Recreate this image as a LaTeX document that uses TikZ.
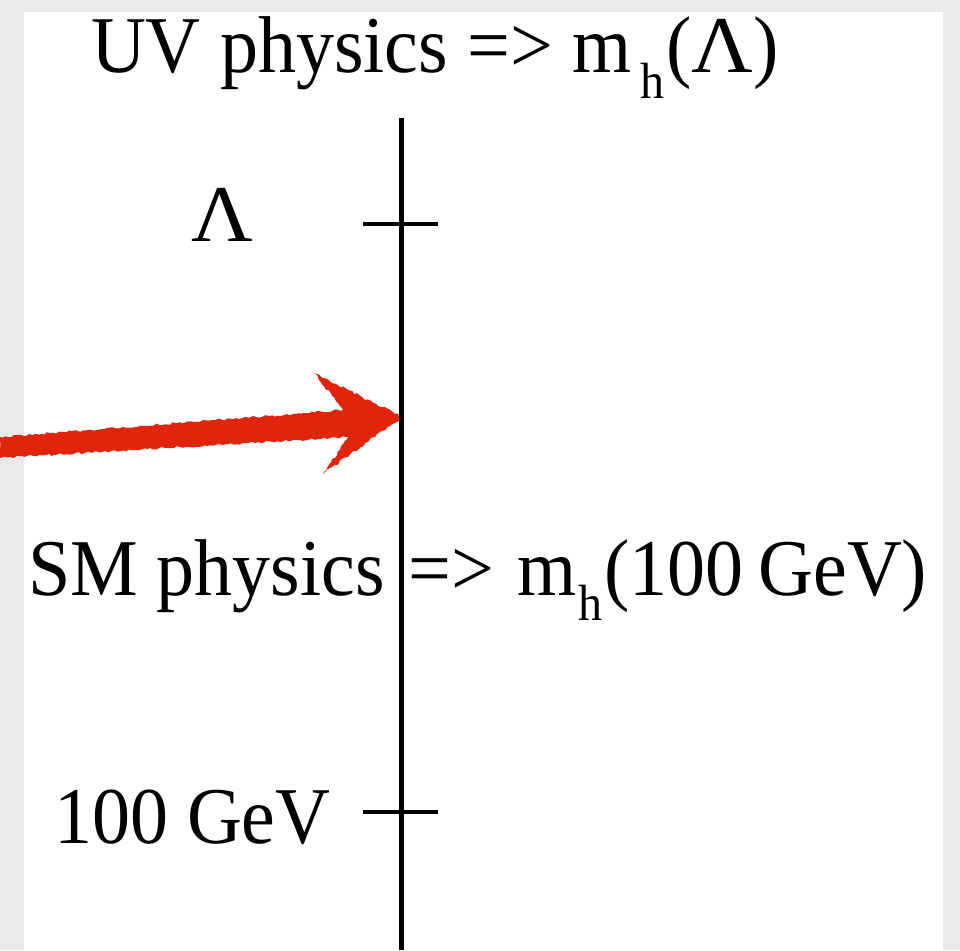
\documentclass[tikz,border=0pt]{standalone}
\usepackage{fontspec}
\setmainfont{Liberation Serif}
\usetikzlibrary{decorations.pathmorphing}
\definecolor{bggray}{RGB}{233,234,236}
\definecolor{arrowred}{RGB}{224,37,12}
\newcommand\vstr[1]{\scalebox{1}[1.06]{#1}}
\newcommand\subh{\fontsize{48}{50}\selectfont h}
\newcommand\bigLam{\scalebox{1.12}[1]{Λ}}
\newcommand\gapw[1]{\hspace{#1pt}}
\begin{document}
\begin{tikzpicture}[x=1pt,y=-1pt,
  lbl/.style={anchor=base west, inner sep=0pt, outer sep=0pt, font=\fontsize{76}{80}\selectfont},
  axisline/.style={line width=5pt, black},
  tickline/.style={line width=4.5pt, black},
  redarrow/.style={fill=arrowred, decorate, decoration={random steps, segment length=3pt, amplitude=1.2pt}}]
\useasboundingbox (0,0) rectangle (960,950);
\fill[bggray] (0,0) rectangle (960,950);
\fill[white] (24,12) rectangle (943,950);
% coordinates
\coordinate (axtop) at (401,118);
\coordinate (axbot) at (401,950);
\coordinate (t1l) at (363,224);
\coordinate (t1r) at (438,224);
\coordinate (t2l) at (363,812);
\coordinate (t2r) at (438,812);
\coordinate (arrtail) at (0,447);
\coordinate (arrtip) at (402,417);
% texts
\node[lbl] (uv) at (91,73) {\vstr{UV\gapw{19.5}physics\gapw{19.5}=>\gapw{19.5}m\gapw{8}\raisebox{-24.5pt}{\subh}\gapw{2}(\bigLam)}};
\node[lbl] (lam) at (191,241) {\vstr{\bigLam}};
\node[lbl] (sm) at (28,595) {\vstr{SM\gapw{19}physics\gapw{24}=>\gapw{23}m\gapw{2}\raisebox{-24.5pt}{\subh}\gapw{1.5}(100\gapw{15}GeV)}};
\node[lbl] (gev) at (54,843) {\vstr{100\gapw{19}GeV}};
% red arrow
\path[redarrow] (0,437) -- (343,410) -- (314,373) -- (arrtip) -- (323,474) -- (348,437) -- (0,458) -- cycle;
% axis and ticks
\draw[axisline] (axtop) -- (axbot);
\draw[tickline] (t1l) -- (t1r);
\draw[tickline] (t2l) -- (t2r);
\end{tikzpicture}
\end{document}
